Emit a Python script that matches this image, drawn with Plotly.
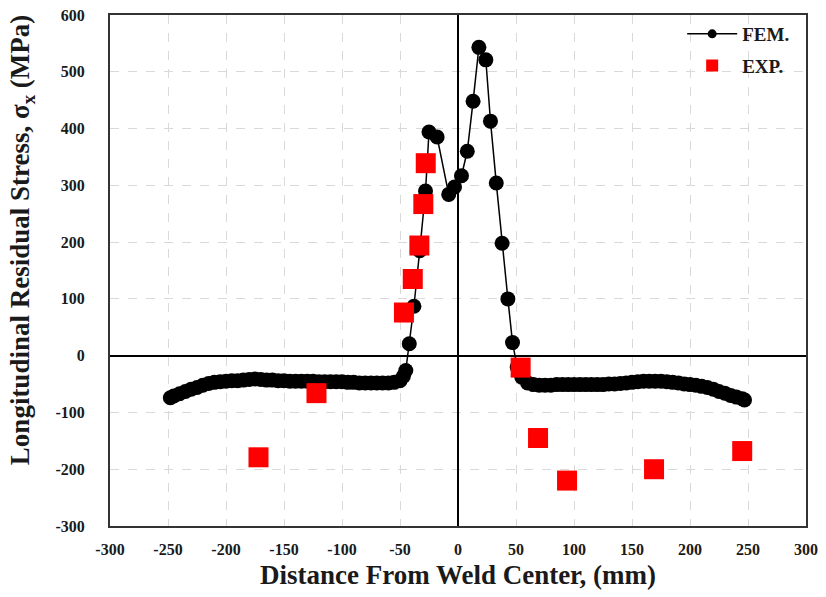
import plotly.graph_objects as go

# FEM longitudinal residual stress profile across the weld (mm, MPa)
fem_x = [-248, -245, -240, -235, -230, -225, -220, -215, -210, -205, -200, -195, -190,
         -185, -180, -175, -170, -165, -160, -155, -150, -145, -140, -135, -130, -125,
         -120, -115, -110, -105, -100, -95, -90, -85, -80, -75, -70, -65, -60, -55,
         -50, -47, -45, -42, -38, -33, -28, -25, -18, -8, -3, 3, 8, 13, 18, 24, 28,
         33, 38, 43, 47, 51, 55, 60, 65, 70, 75, 80, 85, 90, 95, 100, 105, 110, 115,
         120, 125, 130, 135, 140, 145, 150, 155, 160, 165, 170, 175, 180, 185, 190,
         195, 200, 205, 210, 215, 220, 225, 230, 235, 240, 245, 247]
fem_y = [-74, -71, -67, -63, -59, -56, -52, -49, -47, -46, -45, -44, -44,
         -43, -42, -41, -42, -43, -43, -44, -44, -45, -45, -45, -45, -45,
         -46, -46, -46, -46, -46, -47, -47, -48, -48, -48, -48, -48, -48, -47,
         -44, -36, -26, 21, 87, 185, 290, 394, 385, 284, 297, 317, 360, 448, 543, 521, 413,
         304, 198, 100, 23, -20, -38, -48, -51, -52, -52, -52, -51, -51, -51, -51, -51, -51, -51,
         -51, -51, -50, -50, -49, -48, -47, -46, -45, -45, -45, -45, -46, -47, -48,
         -50, -51, -52, -54, -56, -59, -63, -66, -70, -73, -76, -78]

# Measured values
exp_x = [-172, -122, -46.6, -39, -33.3, -29.9, -27.8, 54, 69, 94, 169, 245]
exp_y = [-179, -66, 76, 135, 194, 267, 339, -21, -145, -220, -200, -168]

x_ticks = list(range(-300, 301, 50))
y_ticks = list(range(-300, 601, 100))

font_family = "Liberation Serif"
text_color = "#1a1a1a"

fig = go.Figure()
fig.add_trace(go.Scatter(
    x=fem_x, y=fem_y, mode="lines+markers", showlegend=False,
    line=dict(color="black", width=1.5),
    marker=dict(color="black", size=15, symbol="circle"),
))
fig.add_trace(go.Scatter(
    x=exp_x, y=exp_y, mode="markers", showlegend=False,
    marker=dict(color="#ff0000", size=20, symbol="square"),
))

# Legend keys drawn with smaller symbols than the plotted markers
fig.add_trace(go.Scatter(
    x=[None], y=[None], mode="lines+markers", name="<b>FEM.</b>",
    legendgroup="fem",
    line=dict(color="black", width=1.5),
    marker=dict(color="black", size=9, symbol="circle"),
))
fig.add_trace(go.Scatter(
    x=[None], y=[None], mode="markers", name="<b>EXP.</b>",
    legendgroup="exp",
    marker=dict(color="#ff0000", size=12, symbol="square"),
))

axis_common = dict(
    showgrid=True, gridcolor="#d9d9d9", griddash="dash", gridwidth=1,
    zeroline=True, zerolinecolor="black", zerolinewidth=1.5,
    showline=True, linecolor="#333333", linewidth=2, mirror=True,
    ticks="", tickfont=dict(family=font_family, size=16, color=text_color),
)

fig.update_layout(
    width=826, height=597,
    margin=dict(l=110, r=20, t=15, b=71, autoexpand=False),
    paper_bgcolor="white", plot_bgcolor="white",
    font=dict(family=font_family, color=text_color),
    xaxis=dict(
        range=[-300, 300], tickvals=x_ticks,
        ticktext=["<b>%d</b>" % v for v in x_ticks],
        ticklabelstandoff=8,
        title=dict(text="<b>Distance From Weld Center, (mm)</b>",
                   font=dict(family=font_family, size=27), standoff=8),
        **axis_common,
    ),
    yaxis=dict(
        range=[-300, 600], tickvals=y_ticks,
        ticktext=["<b>%d</b>" % v for v in y_ticks],
        ticklabelstandoff=20,
        **axis_common,
    ),
    legend=dict(
        x=0.983, y=1.0, xanchor="right", yanchor="top",
        bgcolor="rgba(0,0,0,0)", font=dict(family=font_family, size=19, color=text_color),
        itemwidth=50, tracegroupgap=4,
    ),
    showlegend=True,
)

# Y-axis title placed as a rotated annotation
fig.add_annotation(
    text="<b>Longitudinal Residual Stress, σ<sub>x</sub> (MPa)</b>",
    xref="paper", yref="paper", x=-0.126, y=0.56,
    xanchor="center", yanchor="middle", textangle=-90, showarrow=False,
    font=dict(family=font_family, size=27, color=text_color),
)

fig.write_html("out.html")
